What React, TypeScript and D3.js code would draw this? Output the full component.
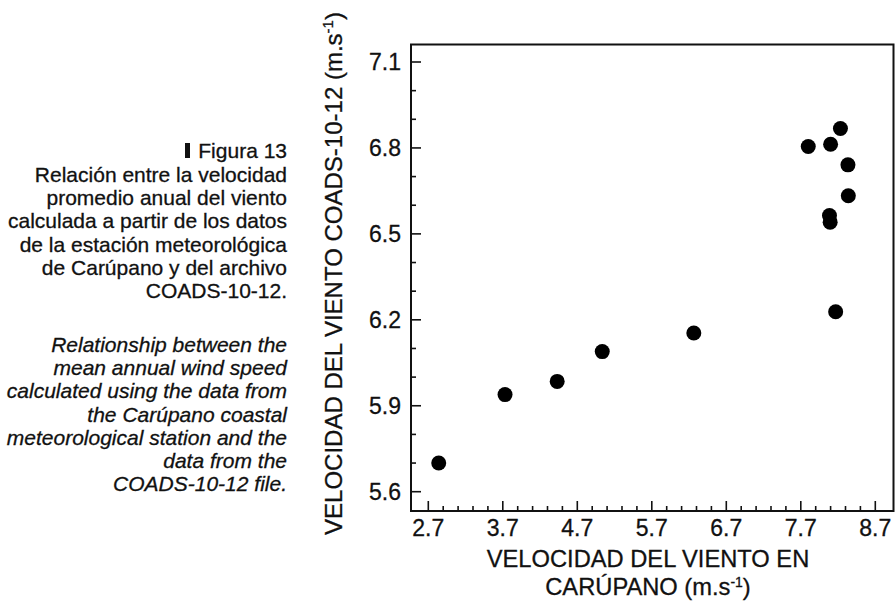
import React from "react";
import * as d3 from "d3";

// Mean annual wind speed: Carúpano station (x) vs COADS-10-12 archive (y), m/s
const carupanoSpeed = [2.84, 3.73, 4.43, 5.035, 6.264, 8.168, 7.8, 8.1, 8.232, 8.333, 8.338, 8.085, 8.094];
const coadsSpeed = [5.7, 5.939, 5.985, 6.089, 6.154, 6.228, 6.805, 6.813, 6.868, 6.741, 6.633, 6.564, 6.541];

const xTickValues = [2.7, 3.7, 4.7, 5.7, 6.7, 7.7, 8.7];
const yTickValues = [5.6, 5.9, 6.2, 6.5, 6.8, 7.1];

const captionEs = [
  "Relación entre la velocidad",
  "promedio anual del viento",
  "calculada a partir de los datos",
  "de la estación meteorológica",
  "de Carúpano y del archivo",
  "COADS-10-12.",
];
const captionEn = [
  "Relationship between the",
  "mean annual wind speed",
  "calculated using the data from",
  "the Carúpano coastal",
  "meteorological station and the",
  "data from the",
  "COADS-10-12 file.",
];

const FONT = "'Liberation Sans', Arial, Helvetica, sans-serif";
const INK = "#111";

export default function App() {
  const W = 896;
  const H = 601;

  const x = d3.scaleLinear().domain([2.7, 8.7]).range([428.3, 875.3]);
  const y = d3.scaleLinear().domain([5.6, 7.1]).range([491.7, 62]);

  const left = 411;
  const right = 893.5;
  const top = 44.5;
  const bottom = 511;

  const xMin = x.invert(left);
  const xMax = x.invert(right);
  const yMin = y.invert(bottom);
  const yMax = y.invert(top);

  const round = (v: number) => Math.round(v * 100) / 100;
  const xMinor = d3
    .range(Math.ceil((xMin - 2.7) / 0.2), Math.floor((xMax - 2.7) / 0.2) + 1)
    .map((i) => round(2.7 + i * 0.2))
    .filter((v) => x(v) > left + 5 && x(v) < right - 5);
  const yMinor = d3
    .range(Math.ceil((yMin - 5.6) / 0.1), Math.floor((yMax - 5.6) / 0.1) + 1)
    .map((i) => round(5.6 + i * 0.1))
    .filter((v) => y(v) < bottom - 5 && y(v) > top + 5);

  const isMajorX = (v: number) => xTickValues.some((t) => Math.abs(t - v) < 1e-6);
  const isMajorY = (v: number) => yTickValues.some((t) => Math.abs(t - v) < 1e-6);

  const points = carupanoSpeed.map((c, i) => ({ cx: x(c), cy: y(coadsSpeed[i]) }));

  const capRight = 287;
  const lineH = 23.2;

  // slightly heavier glyphs, like printed type
  const ink = { fill: INK, stroke: INK, strokeWidth: 0.3 };

  return (
    <svg
      width={W}
      height={H}
      viewBox={`0 0 ${W} ${H}`}
      style={{ position: "absolute", left: 0, top: 0, background: "#fff" }}
      fontFamily={FONT}
    >
      <rect width={W} height={H} fill="#fff" />

      {/* Caption */}
      <rect x={185} y={143} width={5} height={15} fill={INK} />
      <text x={capRight} y={158} fontSize={21} textAnchor="end" {...ink}>
        Figura 13
      </text>
      {captionEs.map((t, i) => (
        <text key={"es" + i} x={capRight} y={182 + i * lineH} fontSize={21} textAnchor="end" {...ink}>
          {t}
        </text>
      ))}
      {captionEn.map((t, i) => (
        <text
          key={"en" + i}
          x={capRight}
          y={352 + i * lineH}
          fontSize={21}
          fontStyle="italic"
          textAnchor="end"
          {...ink}
        >
          {t}
        </text>
      ))}

      {/* Frame */}
      <rect x={left} y={top} width={right - left} height={bottom - top} fill="none" stroke={INK} strokeWidth={2} />

      {/* X ticks */}
      {xMinor.map((v) => (
        <line
          key={"xt" + v}
          x1={x(v)}
          x2={x(v)}
          y1={bottom}
          y2={bottom - (isMajorX(v) ? 10 : 5)}
          stroke={INK}
          strokeWidth={1.6}
        />
      ))}
      {xTickValues.map((v) => (
        <text key={"xl" + v} x={x(v)} y={535.5} fontSize={23} textAnchor="middle" {...ink}>
          {v.toFixed(1)}
        </text>
      ))}

      {/* Y ticks */}
      {yMinor.map((v) => (
        <line
          key={"yt" + v}
          x1={left}
          x2={left + (isMajorY(v) ? 10 : 5)}
          y1={y(v)}
          y2={y(v)}
          stroke={INK}
          strokeWidth={1.6}
        />
      ))}
      {yTickValues.map((v) => (
        <text key={"yl" + v} x={401} y={y(v) + 8} fontSize={23} textAnchor="end" {...ink}>
          {v.toFixed(1)}
        </text>
      ))}

      {/* Axis titles */}
      <text x={648} y={567} fontSize={23.7} textAnchor="middle" {...ink}>
        VELOCIDAD DEL VIENTO EN
      </text>
      <text x={648} y={595} fontSize={23.7} textAnchor="middle" {...ink}>
        CARÚPANO (m.s
        <tspan dy={-8} fontSize={14}>-1</tspan>
        <tspan dy={8}>)</tspan>
      </text>
      <text transform="translate(342,273.5) rotate(-90)" fontSize={24} textAnchor="middle" {...ink}>
        VELOCIDAD DEL VIENTO COADS-10-12 (m.s
        <tspan dy={-9} fontSize={15}>-1</tspan>
        <tspan dy={9}>)</tspan>
      </text>

      {/* Points */}
      {points.map((p, i) => (
        <circle key={"p" + i} cx={p.cx} cy={p.cy} r={7.5} fill="#000" />
      ))}
    </svg>
  );
}
